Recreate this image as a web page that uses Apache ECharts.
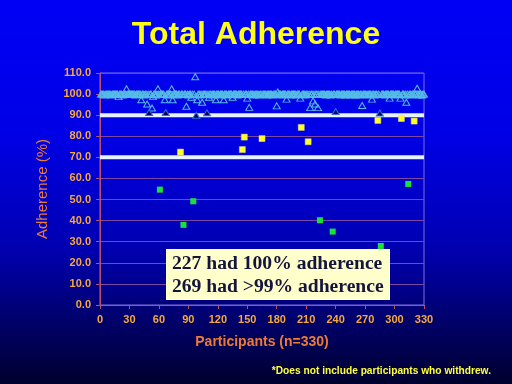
<!DOCTYPE html>
<html>
<head>
<meta charset="utf-8">
<script src="https://cdn.jsdelivr.net/npm/echarts@6/dist/echarts.min.js"></script>
<style>
html,body{margin:0;padding:0;}
#chart{width:512px;height:384px;}
</style>
</head>
<body>
<div id="chart"></div>
<script>
// Adherence (%) per participant, participants 1..330 in order
const adherence = [
  100,100,100,100,99.6,100,100,100,100,100, 100,99.6,100,100,100,100,100,100,98.8,100, 100,100,99.6,100,100,100,102.5,100,100,100,
  100,100,100,100,100,99.6,100,100,100,100, 100,97.3,100,100,99.6,100,100,95.3,100,91.3, 100,100,93.4,98.8,100,100,99.6,100,102.5,100,
  54.7,100,100,100,100,97.3,91.3,100,100,99.6, 100,100,102.5,97.3,100,100,100,100,99.6,100, 100,72.5,100,100,38,100,100,94.2,100,99.6,
  100,100,98.5,100,49.2,100,108.2,90,97.3,100, 100,99.6,100,96.1,100,100,100,100,91.1,100, 98.5,100,100,99.6,100,100,100,97.3,100,100,
  100,99.6,100,100,100,97.3,100,100,100,99.6, 100,100,100,100,98.5,100,100,100,100,99.6, 100,100,100,100,73.7,100,79.6,100,100,98.1,
  100,93.7,100,100,100,100,99.6,100,100,100, 100,99.6,100,100,78.9,100,100,100,100,99.6, 100,100,100,100,100,99.6,100,100,100,94.4,
  101,100,100,100,99.6,100,100,100,100,97.6, 100,100,100,99.6,100,100,100,100,100,99.6, 100,100,100,98.1,84.2,100,100,100,99.6,100,
  100,77.4,100,93.6,100,100,96.8,100,95.3,100, 100,93.6,100,40.2,100,100,100,100,100,99.6, 100,100,100,100,99.6,100,34.8,100,100,91.7,
  100,100,100,100,99.6,100,100,100,100,99.6, 100,100,100,100,99.6,100,100,100,100,99.6, 100,100,100,99.6,100,100,94.6,100,100,100,
  100,99.6,100,100,100,100,97.6,100,100,99.6, 100,100,87.5,100,91,28,100,100,100,99.6, 100,100,100,100,98.1,100,100,100,100,99.6,
  100,100,100,100,100,98.1,88.4,100,100,99.6, 100,96.1,100,57.4,100,100,99.6,100,100,87.2, 100,100,102.8,100,99.6,100,100,99.6,100,100
];
// reference lines drawn on the chart
const refLines = [90, 70];
// axis ranges / ticks
const xTicks = { min: 0, max: 330, interval: 30 };
const yTicks = { min: 0, max: 110, interval: 10 };
const noteLines = ['227 had 100% adherence', '269 had >99% adherence'];

const pts = adherence.map((v, i) => [i + 1, v]);
const lightPts = pts.filter(p => p[1] >= 92);
const darkPts = pts.filter(p => p[1] >= 89 && p[1] < 92);
const yellowPts = pts.filter(p => p[1] >= 70 && p[1] < 89);
const greenPts = pts.filter(p => p[1] < 70);

const labelColor = '#f6a83a';
const nameColor = '#ee7a36';

const refSeries = refLines.map(v => ({
  type: 'line', z: 1, silent: true, symbol: 'none',
  data: [[xTicks.min, v], [xTicks.max, v]],
  lineStyle: { color: '#e6f2ff', width: 4 }
}));

const chart = echarts.init(document.getElementById('chart'));
chart.setOption({
  animation: false,
  backgroundColor: {
    type: 'linear', x: 0, y: 0, x2: 0, y2: 1,
    colorStops: [
      { offset: 0, color: '#0000f6' },
      { offset: 0.35, color: '#0000e6' },
      { offset: 0.65, color: '#0000b0' },
      { offset: 1, color: '#00002e' }
    ]
  },
  grid: { left: 100, right: 88, top: 73, bottom: 79, show: true, borderColor: '#7f6fd8', borderWidth: 1, backgroundColor: 'transparent' },
  xAxis: {
    type: 'value', min: xTicks.min, max: xTicks.max, interval: xTicks.interval,
    name: 'Participants (n=330)', nameLocation: 'middle', nameGap: 30,
    nameTextStyle: { color: nameColor, fontSize: 14, fontWeight: 'bold', fontFamily: 'Liberation Sans' },
    axisLine: { show: true, lineStyle: { color: '#b9506a', width: 1 } },
    axisTick: { show: true, length: 4, lineStyle: { color: '#b9506a' } },
    axisLabel: { color: labelColor, fontSize: 11, fontWeight: 'bold', fontFamily: 'Liberation Sans', margin: 9 },
    splitLine: { show: false }
  },
  yAxis: {
    type: 'value', min: yTicks.min, max: yTicks.max, interval: yTicks.interval,
    name: 'Adherence (%)', nameLocation: 'middle', nameGap: 50, nameRotate: 90,
    nameTextStyle: { color: nameColor, fontSize: 15, fontFamily: 'Liberation Sans' },
    axisLine: { show: true, lineStyle: { color: '#b9506a', width: 1 } },
    axisTick: { show: true, length: 4, lineStyle: { color: '#b9506a' } },
    axisLabel: { color: labelColor, fontSize: 11, fontWeight: 'bold', fontFamily: 'Liberation Sans', margin: 9,
      formatter: v => v.toFixed(1) },
    splitLine: { show: true, lineStyle: { color: '#7b48a6', width: 1 } }
  },
  series: refSeries.concat([
    {
      type: 'scatter', data: lightPts, z: 3, symbol: 'triangle', symbolSize: [7, 6],
      itemStyle: { color: 'rgba(0,0,0,0)', borderColor: '#55bde8', borderWidth: 1, opacity: 1 }
    },
    {
      type: 'scatter', data: darkPts, z: 4, symbol: 'triangle', symbolSize: [7, 6],
      itemStyle: { color: '#00005a', borderColor: '#2f6fd0', borderWidth: 1, opacity: 1 }
    },
    {
      type: 'scatter', data: yellowPts, z: 3, symbol: 'rect', symbolSize: 6,
      itemStyle: { color: '#ffff22', borderColor: '#d8d890', borderWidth: 0.5, opacity: 1 }
    },
    {
      type: 'scatter', data: greenPts, z: 3, symbol: 'rect', symbolSize: 6,
      itemStyle: { color: '#18e23a', opacity: 1 }
    }
  ]),
  graphic: [
    { type: 'text', left: 'center', top: 19, z: 10,
      style: { text: 'Total Adherence', fill: '#ffff14', font: 'bold 32px "Liberation Sans"' } },
    { type: 'rect', shape: { x: 166, y: 249, width: 224, height: 51 }, z: 10,
      style: { fill: '#ffffcc' } },
    { type: 'text', x: 172, y: 264, z: 11,
      style: { text: noteLines[0], fill: '#14143c', font: 'bold 19.6px "Liberation Serif"', textVerticalAlign: 'middle' } },
    { type: 'text', x: 172, y: 287, z: 11,
      style: { text: noteLines[1], fill: '#14143c', font: 'bold 19.6px "Liberation Serif"', textVerticalAlign: 'middle' } },
    { type: 'text', x: 491, y: 371, z: 10,
      style: { text: '*Does not include participants who withdrew.', fill: '#ffff3a', font: 'bold 10.2px "Liberation Sans"', textAlign: 'right', textVerticalAlign: 'middle' } }
  ]
});
</script>
</body>
</html>
